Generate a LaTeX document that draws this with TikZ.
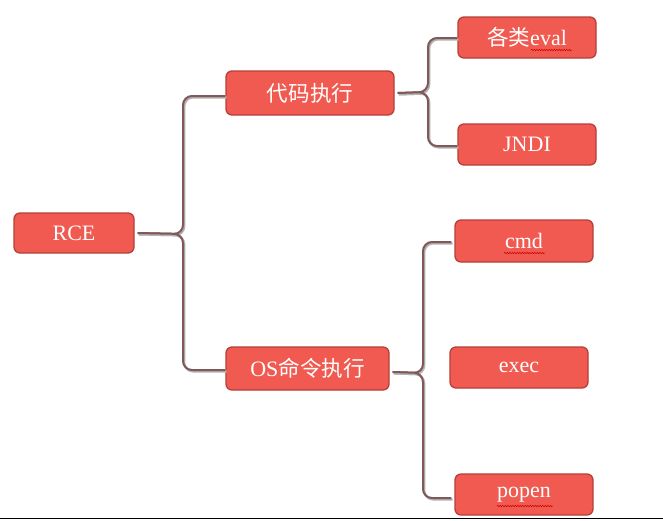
\documentclass[tikz,border=0pt]{standalone}
\usepackage{fontspec}
\setmainfont{Liberation Serif}
\newfontfamily\cjk{Noto Sans CJK SC}[Scale=0.98]
\usetikzlibrary{decorations.pathmorphing}
\definecolor{boxfill}{HTML}{F05A50}
\definecolor{boxedge}{HTML}{B5403A}
\definecolor{linkc}{HTML}{80585A}
\tikzset{
  box/.style={draw=boxedge, fill=boxfill, line width=1.3pt, rounded corners=6pt,
    text=white, font=\fontsize{22}{26}\selectfont, inner sep=0pt, anchor=center},
  link/.style={draw=linkc, line width=2pt, rounded corners=9pt,
    preaction={draw=black!30, line width=2.2pt, transform canvas={shift={(1.2pt,-1.4pt)}}}},
  spell/.style={draw=red!80!black, line width=0.5pt, decorate,
    decoration={snake, amplitude=0.7pt, segment length=2.5pt}}
}
\begin{document}
\begin{tikzpicture}[x=1pt,y=-1pt]
\useasboundingbox (0,0) rectangle (663,520);
\fill[white] (0,0) rectangle (663,520);
% nodes
\node[box, minimum width=120pt, minimum height=40pt] (rce) at (74,233) {RCE};
\node[box, minimum width=168pt, minimum height=44pt] (code) at (310,93) {\cjk 代码执行};
\node[box, minimum width=163pt, minimum height=43pt] (os) at (307.5,368.5) {OS{\cjk 命令执行}};
\node[box, minimum width=138pt, minimum height=41pt] (eval) at (527,37.5) {{\cjk 各类}eval};
\node[box, minimum width=138pt, minimum height=41pt] (jndi) at (527,144.5) {JNDI};
\node[box, minimum width=138pt, minimum height=42pt] (cmd) at (524,241) {cmd};
\node[box, minimum width=138pt, minimum height=41pt] (exec) at (519,367.5) {exec};
\node[box, minimum width=138pt, minimum height=41pt] (popen) at (524,494.5) {popen};
% connectors
\draw[link] ([xshift=3pt]rce.east) -- (183,234) -- (183,96) -- (code.west |- 0,96);
\draw[link] ([xshift=3pt]rce.east) -- (183,234) -- (183,370) -- (os.west |- 0,370);
\draw[link] ([xshift=3pt]code.east) -- (428,92) -- (428,38) -- (eval.west |- 0,38);
\draw[link] ([xshift=3pt]code.east) -- (428,92) -- (428,146) -- (jndi.west |- 0,146);
\coordinate (osj) at (423,373);
\draw[link] ([xshift=3pt]os.east |- 0,372) -- (osj) -- (423,242) -- ([xshift=-3pt]cmd.west |- 0,242);
\draw[link] ([xshift=3pt]os.east |- 0,372) -- (osj) -- (423,498) -- ([xshift=-3pt]popen.west |- 0,498);
% spelling underlines
\draw[spell] (531,50) -- (572,50);
\draw[spell] (504,253) -- (545,253);
\draw[spell] (497,506) -- (553,506);
% bottom rule
\draw[black, line width=1.5pt] (0,518.5) -- (663,518.5);
\end{tikzpicture}
\end{document}
